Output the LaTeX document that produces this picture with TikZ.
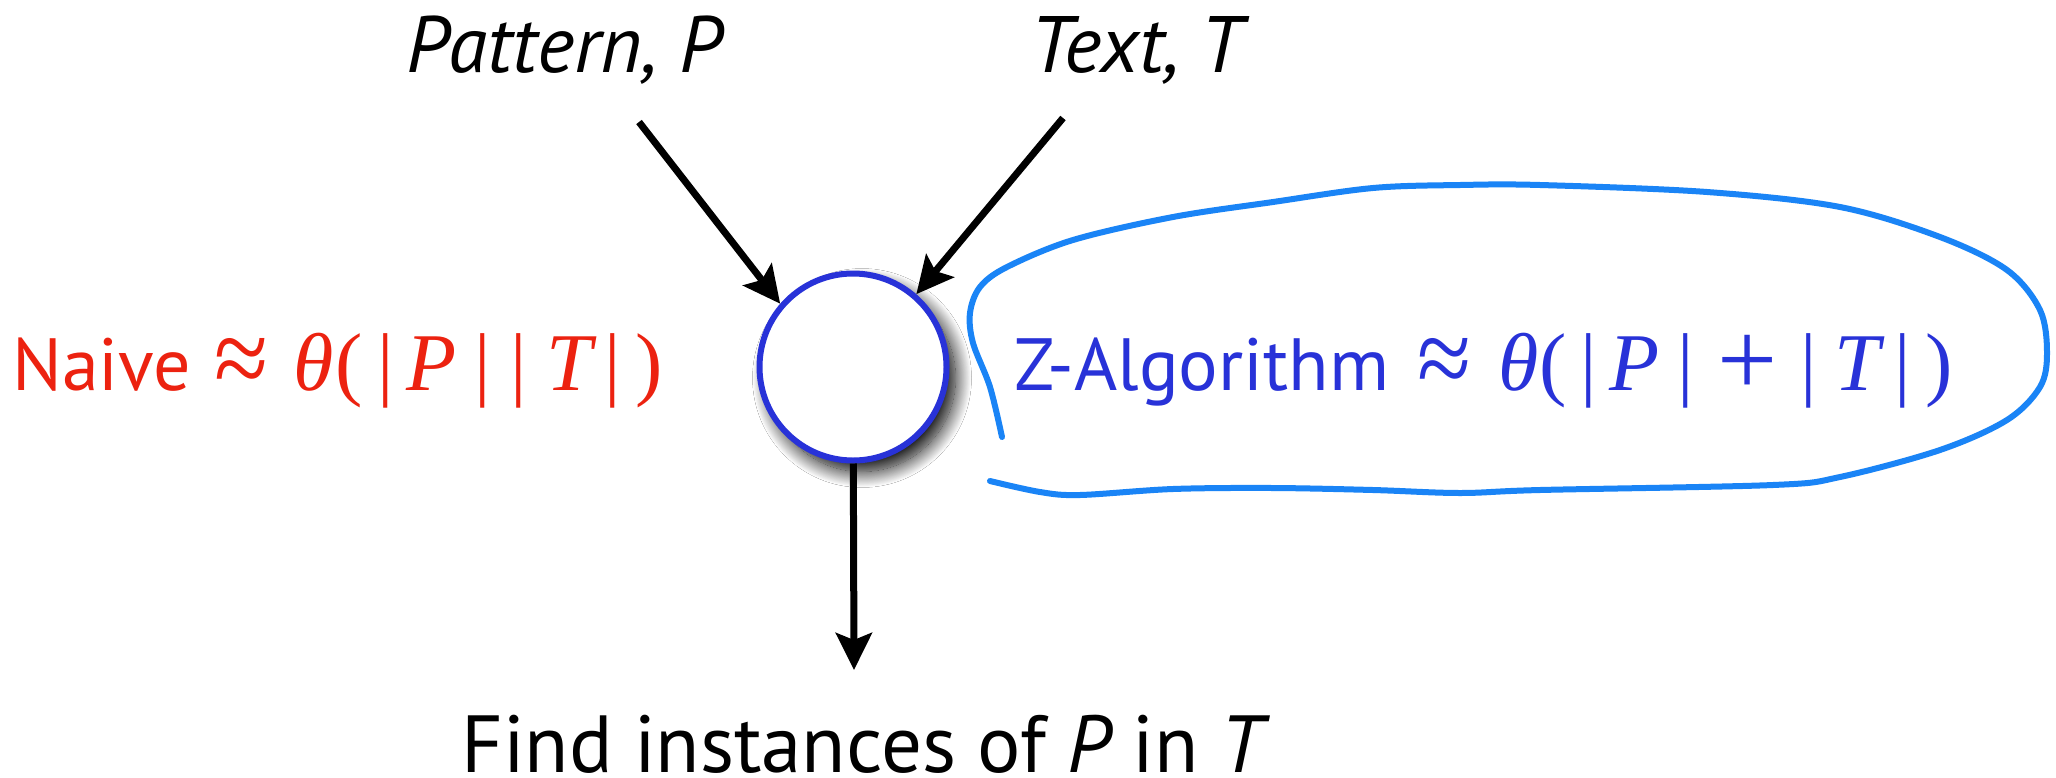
\documentclass[tikz,border=0pt]{standalone}
\usepackage{fontspec}
\setmainfont{PT Sans}
\newfontfamily\tms{Liberation Serif}
\usetikzlibrary{arrows.meta,shadows.blur}

\definecolor{naivered}{RGB}{236,34,16}
\definecolor{zblue}{RGB}{40,50,216}
\definecolor{loopblue}{RGB}{26,132,246}

% a glyph centred at a given distance from the label origin
\newcommand\gat[2]{\rlap{\kern#1pt\makebox[0pt]{#2}}}
% serif formula pieces
\newcommand\sr[1]{{\tms\fontsize{82}{90}\selectfont #1}}
\newcommand\si[1]{{\tms\itshape\fontsize{82}{90}\selectfont #1}}
\newcommand\bigop[1]{\raisebox{-5pt}{\scalebox{1.2}[1.35]{\sr{#1}}}}
\newcommand\plusop{\raisebox{-5pt}{\scalebox{1.3}{\sr{+}}}}

\tikzset{
  lbl/.style={inner sep=0pt, anchor=base},
  flow/.style={line width=7pt, draw=black,
    -{Stealth[length=37pt,width=36pt,inset=7pt]}},
  hubstyle/.style={circle, draw=zblue, line width=6pt, fill=white,
    minimum size=187pt, inner sep=0pt,
    blur shadow={shadow xshift=9pt, shadow yshift=-11pt,
      shadow blur radius=16pt, shadow blur steps=24, shadow opacity=100}},
}

\begin{document}
\begin{tikzpicture}[x=1pt, y=-1pt]
  \useasboundingbox (0,0) rectangle (2056,777);
  \fill[white] (0,0) rectangle (2056,777);

  % inputs
  \node[lbl] (pat) at (564,72) {\fontsize{80}{90}\selectfont\itshape Pattern, P};
  \node[lbl] (txt) at (1137,72) {\fontsize{80}{90}\selectfont\itshape Text, T};

  % the matcher
  \node[hubstyle] (hub) at (853,367) {};

  % output
  \node[lbl] (find) at (862,772)
    {\fontsize{81}{90}\selectfont Find instances of {\itshape P} in {\itshape T}};

  % arrow end points
  \coordinate (pstart) at (639,122);
  \coordinate (tstart) at (1063,118);
  \coordinate (ftip) at (854,670);

  \draw[flow] (pstart) -- (hub.139);
  \draw[flow] (tstart) -- (hub.49);
  \draw[flow] (hub) -- (ftip);

  % running times (glyphs set at fixed offsets from the label origin)
  \node[lbl, anchor=base west, text=naivered] (naive) at (0,390)
    {\fontsize{74}{80}\selectfont
     \gat{101}{Naive}\gat{241}{\bigop{≈}}\gat{313}{\si{θ}}\gat{348}{\sr{(}}%
     \gat{385}{\sr{|}}\gat{431}{\si{P}}\gat{482}{\sr{|}}\gat{518}{\sr{|}}%
     \gat{569}{\si{T}}\gat{612}{\sr{|}}\gat{649}{\sr{)}}};
  \node[lbl, anchor=base west, text=zblue] (zalg) at (1000,390)
    {\fontsize{74}{80}\selectfont
     \gat{201}{Z-Algorithm}\gat{444}{\bigop{≈}}\gat{518}{\si{θ}}%
     \gat{552}{\sr{(}}\gat{588}{\sr{|}}\gat{634}{\si{P}}\gat{685}{\sr{|}}%
     \gat{747}{\plusop}\gat{808}{\sr{|}}\gat{857}{\si{T}}\gat{902}{\sr{|}}%
     \gat{938}{\sr{)}}};

  % freehand loop around the Z-algorithm bound
  \draw[loopblue, line width=6pt, line cap=round, line join=round]
    plot[smooth, tension=0.55] coordinates {
      (1002,437) (990,387) (973,343) (970,313) (980,287) (1007,267)
      (1073,240) (1173,217) (1273,202) (1373,188) (1460,185) (1540,185)
      (1707,192) (1840,207) (1940,237) (2007,270) (2040,310) (2047,353)
      (2040,387) (2007,420) (1940,450) (1840,477) (1773,485) (1540,490)
      (1460,493) (1373,490) (1273,488) (1173,489) (1080,495) (1040,492)
      (990,481)};
\end{tikzpicture}
\end{document}
